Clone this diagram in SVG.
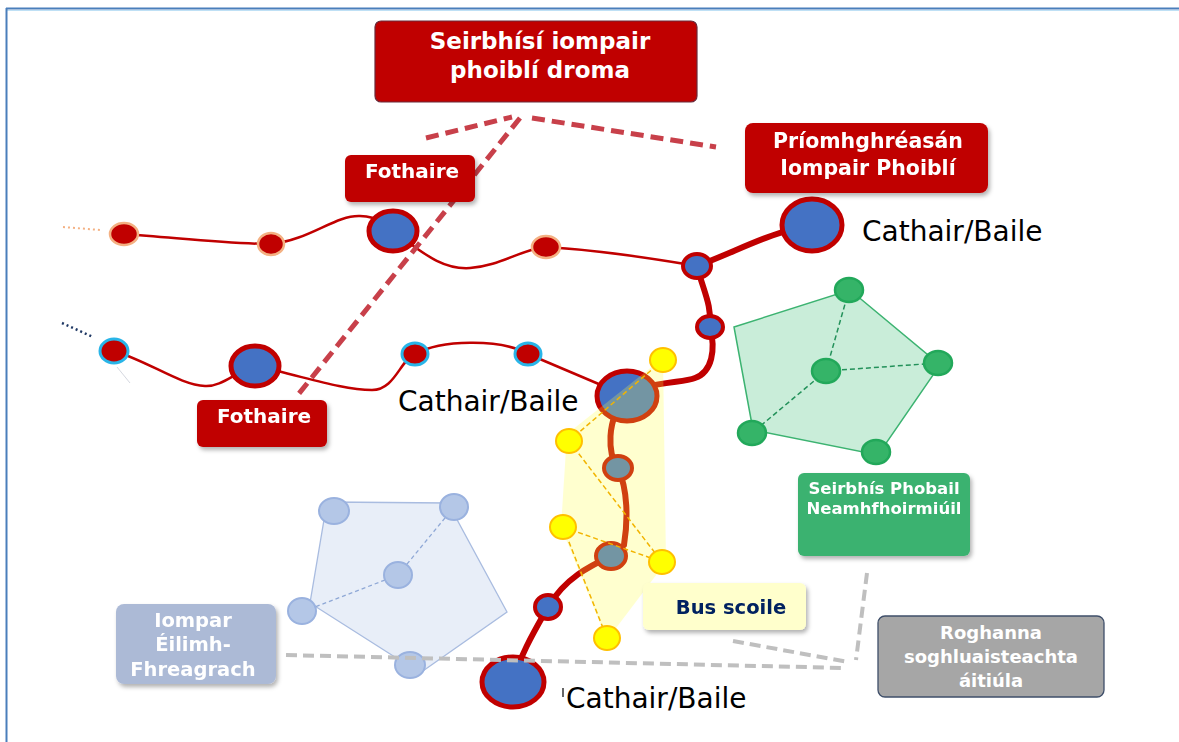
<svg xmlns="http://www.w3.org/2000/svg" width="1179" height="742" viewBox="0 0 1179 742">
<defs>
<filter id="sh" x="-10%" y="-10%" width="130%" height="140%"><feDropShadow dx="2" dy="3" stdDeviation="2" flood-color="#000" flood-opacity="0.3"/></filter>
<style>
.lbl{font-family:"DejaVu Sans",Verdana,sans-serif;font-weight:bold;fill:#fff;text-anchor:middle}
.city{font-family:"DejaVu Sans",Verdana,sans-serif;font-size:28px;fill:#000}
.thin{fill:none;stroke:#C00000;stroke-width:2.5}
.thick{fill:none;stroke:#C00000;stroke-width:6;stroke-linecap:round}
.big{fill:#4472C4;stroke:#C00000;stroke-width:5}
.mid{fill:#4472C4;stroke:#C00000;stroke-width:4}
.rn1{fill:#C00000;stroke:#F4B183;stroke-width:2.5}
.rn2{fill:#C00000;stroke:#29B5E8;stroke-width:3}
.yn{fill:#FFFF00;stroke:#FFC000;stroke-width:2}
.yd{fill:none;stroke:#F2B400;stroke-width:1.5;stroke-dasharray:5 3}
.gn{fill:#35B468;stroke:#22A85A;stroke-width:2.5}
.gd{fill:none;stroke:#23915A;stroke-width:1.5;stroke-dasharray:5 3}
.bn{fill:#B4C7E7;stroke:#9AB2DF;stroke-width:2}
.bd{fill:none;stroke:#8FA8D6;stroke-width:1.3;stroke-dasharray:4 3}
.rdash{fill:none;stroke:#C8404A;stroke-width:5;stroke-dasharray:13 7}
.gdash{fill:none;stroke:#BFBFBF;stroke-width:4;stroke-dasharray:11 6}
</style>
</defs>
<rect x="0" y="0" width="1179" height="742" fill="#fff"/>
<g id="frame">
<line x1="6" y1="8.5" x2="1179" y2="8.5" stroke="#4A7EBB" stroke-width="2"/>
<line x1="6" y1="10.5" x2="1179" y2="10.5" stroke="#BFE0F5" stroke-width="1"/>
<line x1="6.5" y1="8" x2="6.5" y2="742" stroke="#4A7EBB" stroke-width="2"/>
</g>

<g id="areas">
<polygon points="734,327 850,290 940,365 878,455 753,430" fill="#C9EDD9" stroke="#3CB371" stroke-width="1.5"/>
<polygon points="327,502 448,503 507,612 420,673 310,603" fill="#E8EEF8" stroke="#A9BCE0" stroke-width="1.3"/>
</g>

<g id="connectors">
<line x1="63" y1="227" x2="100" y2="230" stroke="#F4B183" stroke-width="2" stroke-dasharray="2 3"/>
<line x1="62" y1="323" x2="93" y2="337" stroke="#1F3864" stroke-width="2.5" stroke-dasharray="2 3"/>
<line x1="117" y1="367" x2="130" y2="383" stroke="#D5D8E0" stroke-width="1"/>
<path class="thin" d="M124,234 C180,238 230,244 271,244"/>
<path class="thin" d="M271,244 C310,240 335,215 360,216 C380,217 388,225 393,231"/>
<path class="thin" d="M393,231 C420,250 440,270 470,268 C500,266 520,250 545,247"/>
<path class="thin" d="M545,247 C600,250 650,258 697,266"/>
<path class="thick" d="M697,266 C740,250 770,232 812,225"/>
<path class="thick" d="M697,266 C703,290 712,305 710,327 C716,350 712,372 695,378 C685,382 670,381 640,388"/>
<path class="thin" d="M114,351 C150,362 180,385 205,386 C222,387 235,372 255,366"/>
<path class="thin" d="M255,366 C300,375 340,390 372,390 C395,390 400,360 415,354"/>
<path class="thin" d="M415,354 C440,340 500,338 528,354"/>
<path class="thin" d="M528,354 L627,396"/>
<path class="thick" d="M627,396 C605,420 608,455 618,468"/>
<path class="thick" d="M618,468 C628,490 628,520 624,545 L611,556"/>
<path class="thick" d="M611,556 C590,566 565,578 548,607"/>
<path class="thick" d="M548,607 C535,630 520,655 513,682"/>
<path class="gd" d="M826,371 L849,290 M826,371 L938,363 M826,371 L752,433"/>
<path class="bd" d="M398,575 L454,507 M398,575 L302,612"/>
</g>

<g id="nodes">
<ellipse class="rn1" cx="124" cy="234" rx="14" ry="11"/>
<ellipse class="rn1" cx="271" cy="244" rx="13" ry="11"/>
<ellipse class="big" cx="393" cy="231" rx="24" ry="20"/>
<ellipse class="rn1" cx="546" cy="247" rx="14" ry="11"/>
<ellipse class="mid" cx="697" cy="266" rx="14" ry="12"/>
<ellipse class="big" cx="812" cy="225" rx="30" ry="26"/>
<ellipse class="mid" cx="710" cy="327" rx="13" ry="11"/>
<ellipse class="rn2" cx="114" cy="351" rx="14" ry="12"/>
<ellipse class="big" cx="255" cy="366" rx="24" ry="20"/>
<ellipse class="rn2" cx="415" cy="354" rx="13" ry="11"/>
<ellipse class="rn2" cx="528" cy="354" rx="13" ry="11"/>
<ellipse class="big" cx="627" cy="396" rx="30" ry="25"/>
<ellipse class="mid" cx="618" cy="468" rx="14" ry="12"/>
<ellipse class="mid" cx="611" cy="556" rx="15" ry="13"/>
<ellipse class="mid" cx="548" cy="607" rx="13" ry="12"/>
<ellipse class="big" cx="513" cy="682" rx="31" ry="25"/>
<ellipse class="gn" cx="849" cy="290" rx="14" ry="12"/>
<ellipse class="gn" cx="938" cy="363" rx="14" ry="12"/>
<ellipse class="gn" cx="826" cy="371" rx="14" ry="12"/>
<ellipse class="gn" cx="752" cy="433" rx="14" ry="12"/>
<ellipse class="gn" cx="876" cy="452" rx="14" ry="12"/>
<ellipse class="bn" cx="334" cy="511" rx="15" ry="13"/>
<ellipse class="bn" cx="454" cy="507" rx="14" ry="13"/>
<ellipse class="bn" cx="398" cy="575" rx="14" ry="13"/>
<ellipse class="bn" cx="302" cy="611" rx="14" ry="13"/>
<ellipse class="bn" cx="410" cy="665" rx="15" ry="13"/>
</g>

<g id="school-area">
<polygon points="663,358 567,434 561,527 607,640 666,562" fill="#FFFF40" fill-opacity="0.25"/>
<path class="yd" d="M663,360 L569,441 M569,441 L662,562 M563,527 L662,562 M563,527 L607,638"/>
<ellipse class="yn" cx="663" cy="360" rx="13" ry="12"/>
<ellipse class="yn" cx="569" cy="441" rx="13" ry="12"/>
<ellipse class="yn" cx="563" cy="527" rx="13" ry="12"/>
<ellipse class="yn" cx="662" cy="562" rx="13" ry="12"/>
<ellipse class="yn" cx="607" cy="638" rx="13" ry="12"/>
</g>

<g id="callout-lines">
<path class="rdash" d="M426,138 L512,117 M532,118 L716,147 M520,118 L297,396"/>
<path class="gdash" d="M286,655 L845,668 M733,641 L848,662 M867,573 L856,660"/>
</g>

<g id="title">
<rect x="375" y="21" width="322" height="81" rx="6" fill="#C00000" stroke="#6B2A3A" stroke-width="1.2"/>
<text class="lbl" x="540" y="49" font-size="23">Seirbhísí iompair</text>
<text class="lbl" x="540" y="78" font-size="23">phoiblí droma</text>
</g>
<g id="fothaire1" filter="url(#sh)">
<rect x="345" y="155" width="130" height="47" rx="6" fill="#C00000"/>
<text class="lbl" x="412" y="178" font-size="20">Fothaire</text>
</g>
<g id="fothaire2" filter="url(#sh)">
<rect x="197" y="400" width="130" height="47" rx="6" fill="#C00000"/>
<text class="lbl" x="264" y="423" font-size="20">Fothaire</text>
</g>
<g id="priomh" filter="url(#sh)">
<rect x="745" y="123" width="243" height="70" rx="8" fill="#C00000"/>
<text class="lbl" x="868" y="148" font-size="20.5">Príomhghréasán</text>
<text class="lbl" x="868" y="175" font-size="20.5">Iompair Phoiblí</text>
</g>
<g id="seirbhis-phobail" filter="url(#sh)">
<rect x="798" y="473" width="172" height="83" rx="6" fill="#3AB270"/>
<text class="lbl" x="884" y="494" font-size="16.5">Seirbhís Phobail</text>
<text class="lbl" x="884" y="514" font-size="16.5">Neamhfhoirmiúil</text>
</g>
<g id="bus-scoile" filter="url(#sh)">
<rect x="643" y="583" width="163" height="47" rx="6" fill="#FFFFCC"/>
<text class="lbl" x="731" y="614" font-size="19.5" style="fill:#002060">Bus scoile</text>
</g>
<g id="roghanna">
<rect x="878" y="616" width="226" height="81" rx="7" fill="#A6A6A6" stroke="#3F4F6A" stroke-width="1.3"/>
<text class="lbl" x="991" y="639" font-size="18">Roghanna</text>
<text class="lbl" x="991" y="663" font-size="18">soghluaisteachta</text>
<text class="lbl" x="991" y="687" font-size="18">áitiúla</text>
</g>
<g id="iompar" filter="url(#sh)">
<rect x="116" y="604" width="160" height="80" rx="8" fill="#ACBAD6"/>
<text class="lbl" x="193" y="627" font-size="19.5">Iompar</text>
<text class="lbl" x="193" y="651" font-size="19.5">Éilimh-</text>
<text class="lbl" x="193" y="676" font-size="19.5">Fhreagrach</text>
</g>
<g id="cities">
<text class="city" x="862" y="241">Cathair/Baile</text>
<text class="city" x="398" y="411">Cathair/Baile</text>
<line x1="563" y1="688" x2="563" y2="697" stroke="#000" stroke-width="1.2"/>
<text class="city" x="566" y="708">Cathair/Baile</text>
</g>
</svg>
